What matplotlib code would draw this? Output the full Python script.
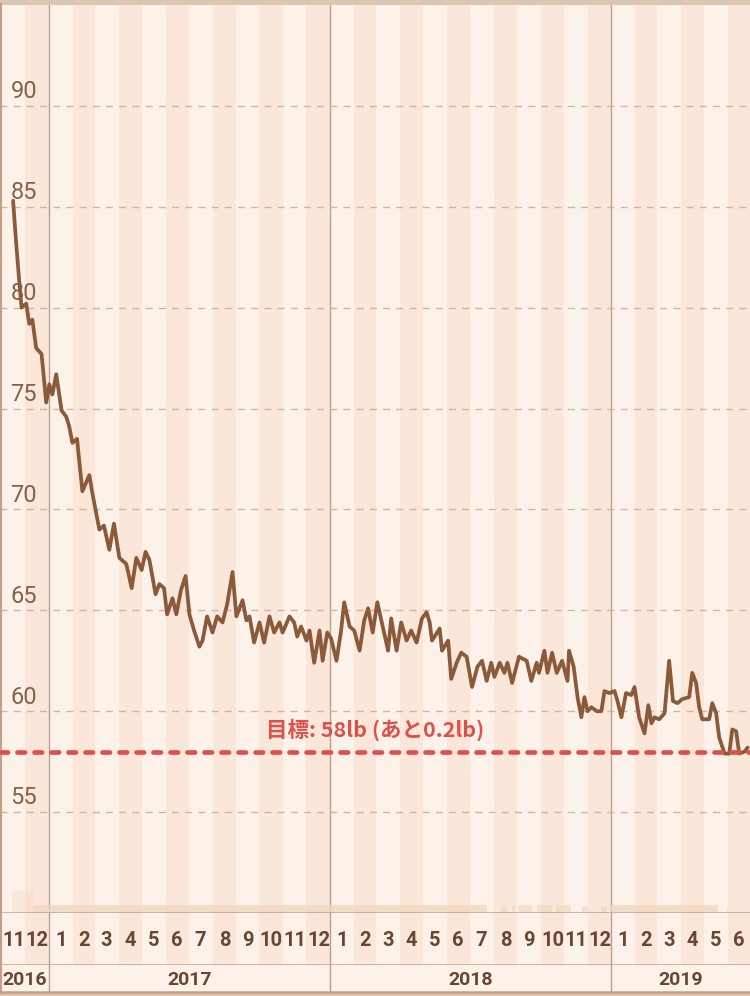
import numpy as np
import pandas as pd
import matplotlib
matplotlib.use("Agg")
import matplotlib.pyplot as plt
import matplotlib.transforms as mtransforms

# ---- data -----------------------------------------------------------------
BASE = pd.Timestamp("2017-01-01")
X_START = pd.Timestamp("2016-10-29")
X_END = pd.Timestamp("2019-06-30")

# weight readings: days since 2017-01-01 and weight (lb)
days = [
    -47, -43, -39, -36, -30, -26, -22, -17, -10, -4,
    0, 4, 9, 16, 22, 26, 30, 36, 43, 52,
    56, 65, 71, 78, 84, 91, 100, 107, 113, 120,
    125, 130, 138, 143, 149, 153, 160, 165, 171, 177,
    182, 188, 195, 199, 205, 212, 218, 225, 231, 238,
    243, 251, 256, 260, 266, 273, 279, 286, 292, 299,
    303, 312, 318, 322, 327, 334, 338, 344, 351, 355,
    361, 366, 373, 379, 383, 390, 396, 403, 409, 414,
    420, 426, 433, 440, 444, 451, 457, 464, 470, 477,
    484, 490, 494, 497, 507, 510, 518, 522, 529, 535,
    542, 549, 556, 562, 568, 574, 578, 585, 591, 595,
    601, 610, 620, 626, 633, 636, 643, 647, 653, 659,
    666, 673, 675, 681, 686, 691, 695, 699, 704, 711,
    717, 721, 727, 734, 738, 743, 749, 756, 760, 766,
    773, 778, 782, 786, 792, 799, 805, 810, 816, 822,
    831, 835, 840, 844, 848, 857, 861, 866, 870, 877,
    883, 887, 892, 896, 903, 907,
]
weight = [
    85.3, 83.2, 81.3, 80.0, 80.2, 79.2, 79.4, 78.0, 77.7, 75.3,
    76.2, 75.7, 76.7, 74.9, 74.6, 74.1, 73.3, 73.5, 70.9, 71.7,
    70.8, 69.0, 69.2, 68.0, 69.3, 67.6, 67.3, 66.1, 67.6, 67.0,
    67.9, 67.5, 65.8, 66.3, 66.1, 64.8, 65.6, 64.8, 66.0, 66.7,
    64.8, 64.0, 63.2, 63.5, 64.7, 63.9, 64.7, 64.4, 65.3, 66.9,
    64.7, 65.5, 64.5, 64.7, 63.4, 64.4, 63.4, 64.7, 63.9, 64.4,
    63.9, 64.7, 64.4, 63.7, 64.2, 63.5, 64.0, 62.4, 64.0, 62.5,
    63.9, 63.6, 62.5, 64.0, 65.4, 64.2, 64.0, 63.0, 64.5, 65.1,
    63.9, 65.4, 64.2, 63.0, 64.6, 63.0, 64.4, 63.5, 64.0, 63.4,
    64.6, 64.9, 64.4, 63.5, 64.1, 63.0, 63.5, 61.6, 62.4, 62.9,
    62.7, 61.2, 62.2, 62.5, 61.5, 62.4, 61.7, 62.4, 61.9, 62.4,
    61.4, 62.7, 62.5, 61.5, 62.4, 61.9, 63.0, 61.9, 62.9, 61.9,
    62.5, 61.5, 63.0, 62.2, 60.7, 59.7, 60.7, 60.0, 60.2, 60.0,
    60.0, 61.0, 60.9, 61.0, 60.5, 59.7, 60.9, 60.8, 61.2, 59.7,
    58.9, 60.3, 59.4, 59.7, 59.6, 59.9, 62.5, 60.5, 60.4, 60.6,
    60.7, 61.9, 61.4, 60.2, 59.6, 59.6, 60.4, 59.9, 58.7, 57.9,
    57.9, 59.1, 59.0, 57.9, 58.0, 58.2,
]

GOAL = 58
GOAL_LABEL = "目標: 58lb (あと0.2lb)"
Y_TICKS = [55, 60, 65, 70, 75, 80, 85, 90]
Y_MIN, Y_MAX = 50, 95

# faint bars along the bottom edge: start / end (days since 2017-01-01), height (lb)
bar_start = [-48, -20, 587, 601, 609, 633, 658, 692, 716, 730, 880]
bar_end = [-20, 569, 594, 605, 627, 653, 678, 699, 724, 868, 882]
bar_height = [1.1, 0.4, 0.4, 0.35, 0.4, 0.4, 0.4, 0.35, 0.35, 0.4, 0.3]
bar_alpha = [0.3, 0.75, 0.6, 0.6, 0.6, 0.6, 0.6, 0.6, 0.6, 0.75, 0.6]

# ---- style ----------------------------------------------------------------
LIGHT = "#fdf2ea"
DARK = "#fbe6da"
FRAME = "#c79f88"
YEAR_LINE = "#b9a090"
LINE = "#8b5a3a"
GOAL_C = "#e0504a"
TEXT = "#6a4632"
TICK_TEXT = "#876149"
NUM_FONT = ["Roboto", "DejaVu Sans"]
JP_FONT = ["Noto Sans CJK JP", "DejaVu Sans"]

W, H = 750, 996
fig = plt.figure(figsize=(W / 100, H / 100), dpi=100)
fig.patch.set_facecolor("#dcc6b1")


def fig_rect(top, bottom, left=0, right=W):
    return [left / W, 1 - bottom / H, (right - left) / W, (bottom - top) / H]


ax = fig.add_axes(fig_rect(5, 913))
ax_m = fig.add_axes(fig_rect(913, 965), sharex=ax)
ax_y = fig.add_axes(fig_rect(965, 992), sharex=ax)

months = pd.date_range("2016-10-01", "2019-06-01", freq="MS")
years = pd.date_range("2017-01-01", "2019-01-01", freq="YS")

for a in (ax, ax_m, ax_y):
    a.set_facecolor(LIGHT)
    a.set_xlim(X_START, X_END)
    a.set_xticks([])
    a.set_yticks([])
    for s in a.spines.values():
        s.set_visible(False)
    a.spines["left"].set_visible(True)
    a.spines["left"].set_color(FRAME)
    a.spines["left"].set_linewidth(3)
    a.spines["bottom"].set_visible(True)
    a.spines["bottom"].set_color(FRAME)
    a.spines["bottom"].set_linewidth(1.8)

# alternating month shading (even months darker)
for m in months:
    if m.month % 2 == 0:
        end = m + pd.offsets.MonthBegin(1)
        for a in (ax, ax_m):
            a.axvspan(m, end, color=DARK, lw=0, zorder=0)

for y in years:
    for a in (ax, ax_m, ax_y):
        a.axvline(y, color=YEAR_LINE, lw=1, zorder=1)

# ---- main panel -----------------------------------------------------------
ax.set_ylim(Y_MIN, Y_MAX)
for t in Y_TICKS:
    ax.axhline(t, color="#cdb6a6", lw=1, ls=(0, (5, 4.5)), zorder=1)
    ax.annotate(str(t), xy=(0.014, t),
                xycoords=mtransforms.blended_transform_factory(ax.transAxes, ax.transData),
                xytext=(0, 5.5), textcoords="offset points", ha="left", va="baseline",
                fontsize=17, color=TICK_TEXT, family=NUM_FONT)

for s, e, h, al in zip(bar_start, bar_end, bar_height, bar_alpha):
    ax.fill_between([BASE + pd.Timedelta(days=s), BASE + pd.Timedelta(days=e)],
                    Y_MIN, Y_MIN + h, color="#efd6bc", alpha=al, lw=0, zorder=1)

dates = BASE + pd.to_timedelta(days, unit="D")
ax.plot(dates, weight, color=LINE, lw=2.7, solid_joinstyle="round",
        solid_capstyle="round", zorder=3)

ax.axhline(GOAL, color=GOAL_C, lw=3.4, ls=(0, (1.6, 2.0)),
           dash_capstyle="round", zorder=4)
ax.annotate(GOAL_LABEL, xy=(0.5, GOAL),
            xycoords=mtransforms.blended_transform_factory(ax.transAxes, ax.transData),
            xytext=(0, 16), textcoords="offset points", ha="center", va="center",
            fontsize=15.5, fontweight="bold", color=GOAL_C, family=JP_FONT)

# ---- month band -----------------------------------------------------------
ax_m.set_ylim(0, 1)
for m in months:
    end = m + pd.offsets.MonthBegin(1)
    mid = m + (end - m) / 2
    ax_m.text(mid, 0.47, str(m.month), ha="center", va="center", fontsize=14.5,
              fontweight="bold", color=TEXT, family=NUM_FONT, clip_on=True)

# ---- year band ------------------------------------------------------------
ax_y.set_ylim(0, 1)
for yr in [2016, 2017, 2018, 2019]:
    s = max(pd.Timestamp(f"{yr}-01-01"), X_START)
    e = min(pd.Timestamp(f"{yr + 1}-01-01"), X_END)
    ax_y.text(s + (e - s) / 2, 0.45, str(yr), ha="center", va="center",
              fontsize=14, fontweight="bold", color=TEXT, family=NUM_FONT)

fig.savefig("out.png", dpi=100, facecolor=fig.get_facecolor())
